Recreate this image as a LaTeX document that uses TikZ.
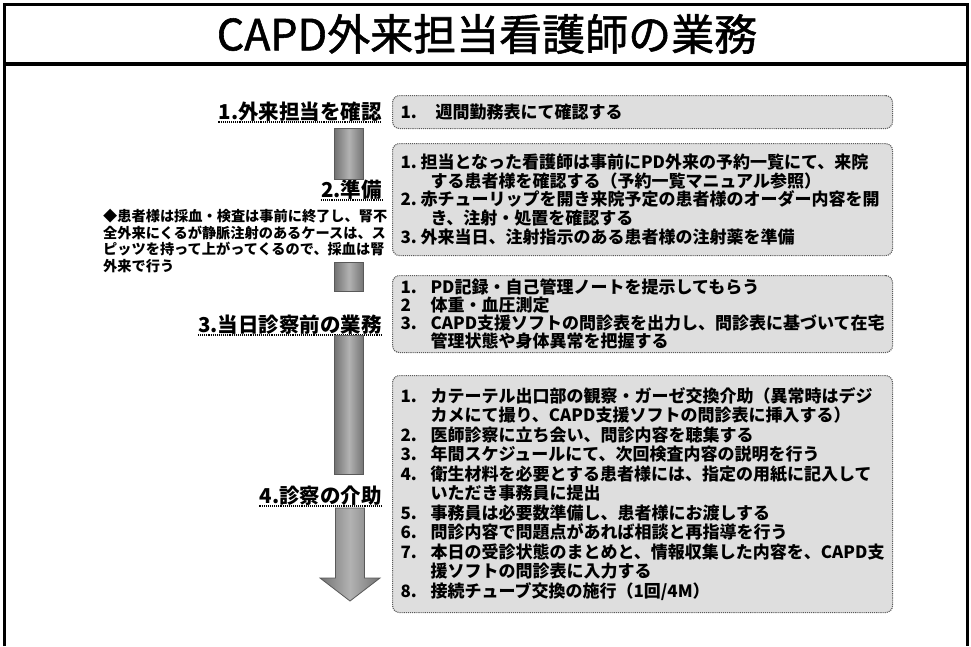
\documentclass[tikz,border=0pt]{standalone}
\usepackage{fontspec}
\setmainfont{Noto Sans CJK JP}
\newfontfamily\ttlfont[FakeBold=1.3]{Noto Sans CJK JP}
\usetikzlibrary{calc}
\newcommand{\itm}[3]{\makebox[#1][l]{#2}#3}
\newcommand{\cnt}[2]{\hspace*{#1}#2}
\begin{document}
\begin{tikzpicture}[x=1pt,y=-1pt,
  frame/.style={line width=3pt},
  lab/.style={font=\fontsize{20.5}{22}\selectfont\bfseries, anchor=base east, inner sep=0pt},
  uline/.style={line width=1.1pt, densely dotted},
  box/.style={draw=black!65, densely dotted, line width=1.1pt, rounded corners=7pt,
    fill=black!13, anchor=north west, minimum width=500pt, text width=484pt,
    inner xsep=8pt, inner ysep=0pt, align=left},
  boxfont/.style={font=\fontsize{17}{#1}\selectfont\bfseries},
  seg/.style={draw=black!65, line width=0.8pt, left color=black!55, right color=black!55, middle color=black!30},
  notefont/.style={font=\fontsize{14.2}{16.7}\selectfont\bfseries}
]
\useasboundingbox (0,0) rectangle (971,646);
% frame
\draw[frame] (4,646) -- (4,4) -- (967,4) -- (967,646);
\draw[line width=4pt] (4,64) -- (967,64);
\node[font=\ttlfont\fontsize{43}{48}\selectfont] (t) at (487,34) {CAPD外来担当看護師の業務};

% step labels
\node[lab] (l1) at (382,119) {1.外来担当を確認};
\node[lab] (l2) at (382,197) {2.準備};
\node[lab] (l3) at (382,332) {3.当日診察前の業務};
\node[lab] (l4) at (382,503) {4.診察の介助};
\foreach \n in {l1,l2,l3,l4}
  \draw[uline] ([yshift=-3pt]\n.base west) -- ([yshift=-3pt]\n.base east);

% note
\node[anchor=north west, inner sep=0pt, align=left, notefont] (note) at (103,209)
  {◆患者様は採血・検査は事前に終了し、腎不\\
   全外来にくるが静脈注射のあるケースは、ス\\
   ピッツを持って上がってくるので、採血は腎\\
   外来で行う};

% arrow segments
\coordinate (s1a) at (349,128); \coordinate (s1b) at (349,179);
\coordinate (s2a) at (349,262); \coordinate (s2b) at (349,291);
\coordinate (s3a) at (349,335); \coordinate (s3b) at (349,474);
\coordinate (s4a) at (350,508); \coordinate (s4b) at (350,601);
\draw[seg] ([xshift=-14.5pt]s1a) rectangle ([xshift=14.5pt]s1b);
\draw[seg] ([xshift=-14.5pt]s2a) rectangle ([xshift=14.5pt]s2b);
\draw[seg] ([xshift=-14.5pt]s3a) rectangle ([xshift=14.5pt]s3b);
\draw[seg] ([xshift=-14.5pt]s4a) -- ([xshift=14.5pt]s4a)
  -- ([xshift=14.5pt,yshift=23pt]s4b) -- ([xshift=30pt,yshift=23pt]s4b)
  -- (s4b) -- ([xshift=-30pt,yshift=23pt]s4b)
  -- ([xshift=-14.5pt,yshift=23pt]s4b) -- cycle;

% boxes
\node[box, boxfont=19, minimum height=33pt] (b1) at (392,95)
  {\itm{35pt}{1.}{週間勤務表にて確認する}};
\node[box, boxfont=18.7, minimum height=112pt] (b2) at (392,143)
  {\itm{20pt}{1.}{担当となった看護師は事前にPD外来の予約一覧にて、来院}\\
   \cnt{30pt}{する患者様を確認する（予約一覧マニュアル参照）}\\
   \itm{20pt}{2.}{赤チューリップを開き来院予定の患者様のオーダー内容を開}\\
   \cnt{30pt}{き、注射・処置を確認する}\\
   \itm{20pt}{3.}{外来当日、注射指示のある患者様の注射薬を準備}};
\node[box, boxfont=18, minimum height=77pt] (b3) at (392,275)
  {\itm{30pt}{1.}{PD記録・自己管理ノートを提示してもらう}\\
   \itm{30pt}{2}{体重・血圧測定}\\
   \itm{30pt}{3.}{CAPD支援ソフトの問診表を出力し、問診表に基づいて在宅}\\
   \cnt{30pt}{管理状態や身体異常を把握する}};
\node[box, boxfont=19.5, minimum height=237pt] (b4) at (392,375)
  {\itm{30pt}{1.}{カテーテル出口部の観察・ガーゼ交換介助（異常時はデジ}\\
   \cnt{30pt}{カメにて撮り、CAPD支援ソフトの問診表に挿入する）}\\
   \itm{30pt}{2.}{医師診察に立ち会い、問診内容を聴集する}\\
   \itm{30pt}{3.}{年間スケジュールにて、次回検査内容の説明を行う}\\
   \itm{30pt}{4.}{衛生材料を必要とする患者様には、指定の用紙に記入して}\\
   \cnt{30pt}{いただき事務員に提出}\\
   \itm{30pt}{5.}{事務員は必要数準備し、患者様にお渡しする}\\
   \itm{30pt}{6.}{問診内容で問題点があれば相談と再指導を行う}\\
   \itm{30pt}{7.}{本日の受診状態のまとめと、情報収集した内容を、CAPD支}\\
   \cnt{30pt}{援ソフトの問診表に入力する}\\
   \itm{30pt}{8.}{接続チューブ交換の施行（1回/4M）}};
\end{tikzpicture}
\end{document}
